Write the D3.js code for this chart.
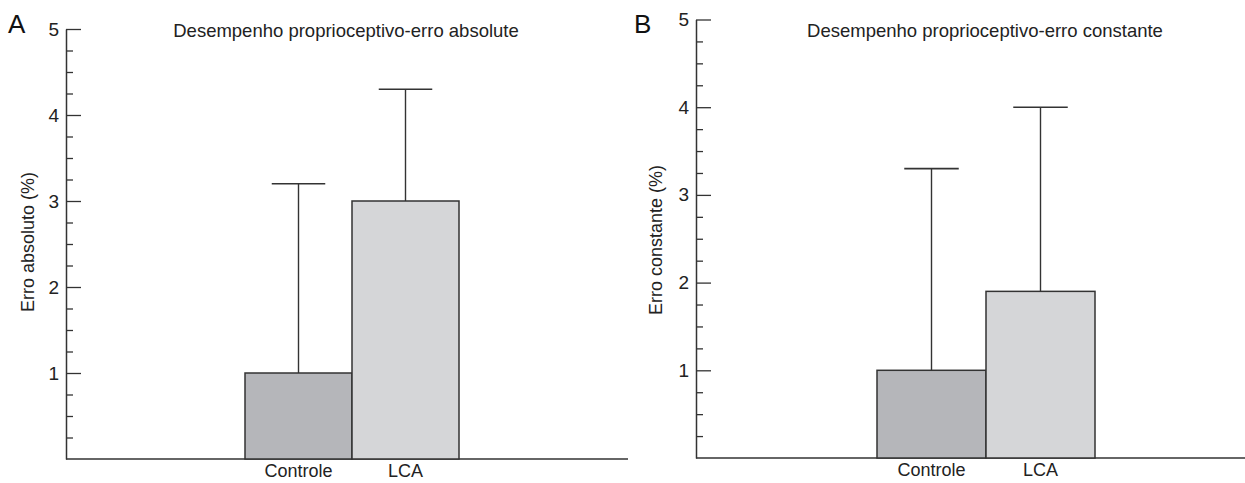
<!DOCTYPE html>
<html>
<head>
<meta charset="utf-8">
<script src="https://cdn.jsdelivr.net/npm/d3@7"></script>
<style>
  body { margin: 0; background: #fff; }
  svg { display: block; font-family: "Liberation Sans", Arial, sans-serif; }
</style>
</head>
<body>
<svg id="chart"></svg>
<script>
// data
const categories = ["Controle", "LCA"];
const absMeans = [1.0, 3.0];
const absUpper = [3.2, 4.3];
const constMeans = [1.0, 1.9];
const constUpper = [3.3, 4.0];
const majorTicks = [1, 2, 3, 4, 5];
const minorTicks = [0.25, 0.5, 0.75, 1.25, 1.5, 1.75, 2.25, 2.5, 2.75, 3.25, 3.5, 3.75, 4.25, 4.5, 4.75];

const barColors = ["#b5b6ba", "#d5d6d8"];
const ink = "#333";

const svg = d3.select("#chart")
    .attr("width", 1245)
    .attr("height", 483);

const panels = [
    { letter: "A", title: "Desempenho proprioceptivo-erro absolute", ylabel: "Erro absoluto (%)",
      means: absMeans, upper: absUpper,
      axisX: 66, axisEnd: 628, top: 29, bottom: 459, barsFrom: 245, barsTo: 459,
      titleX: 346, letterX: 8, ylabelX: 34, ylabelY: 242 },
    { letter: "B", title: "Desempenho proprioceptivo-erro constante", ylabel: "Erro constante (%)",
      means: constMeans, upper: constUpper,
      axisX: 696, axisEnd: 1245, top: 19.5, bottom: 458, barsFrom: 877, barsTo: 1095,
      titleX: 985, letterX: 634, ylabelX: 662, ylabelY: 240 }
];

panels.forEach(p => drawPanel(p));

function drawPanel(p){
    const y = d3.scaleLinear().domain([0, 5]).range([p.bottom, p.top]);
    const x = d3.scaleBand().domain(categories).range([p.barsFrom, p.barsTo]).padding(0);

    const g = svg.append("g");

    // minor ticks (inward)
    g.append("g")
        .attr("transform", `translate(${p.axisX},0)`)
        .call(d3.axisLeft(y).tickValues(minorTicks).tickSize(-7).tickFormat(""))
        .call(a => a.select(".domain").remove())
        .call(a => a.selectAll("line").attr("stroke", ink).attr("stroke-width", 1.3));

    // major ticks + labels
    g.append("g")
        .attr("transform", `translate(${p.axisX},0)`)
        .call(d3.axisLeft(y).tickValues(majorTicks).tickSizeInner(-15).tickSizeOuter(0).tickPadding(7).tickFormat(d3.format("d")))
        .call(a => a.select(".domain").attr("stroke", ink).attr("stroke-width", 1.5))
        .call(a => a.selectAll("line").attr("stroke", ink).attr("stroke-width", 1.3))
        .call(a => a.selectAll("text").attr("fill", "#222").style("font-size", "19px").style("font-family", "'Liberation Sans', Arial, sans-serif"));

    // bottom line
    g.append("line")
        .attr("x1", p.axisX).attr("x2", p.axisEnd)
        .attr("y1", y(0)).attr("y2", y(0))
        .attr("stroke", ink).attr("stroke-width", 1.6);

    // error bars
    const capW = x.bandwidth() / 2;
    const err = g.selectAll(".err")
        .data(categories)
        .enter()
        .append("g")
        .attr("class", "err");
    err.append("line")
        .attr("x1", d => x(d) + x.bandwidth() / 2)
        .attr("x2", d => x(d) + x.bandwidth() / 2)
        .attr("y1", (d, i) => y(p.means[i]))
        .attr("y2", (d, i) => y(p.upper[i]))
        .attr("stroke", ink).attr("stroke-width", 1.4);
    err.append("line")
        .attr("x1", d => x(d) + x.bandwidth() / 2 - capW / 2)
        .attr("x2", d => x(d) + x.bandwidth() / 2 + capW / 2)
        .attr("y1", (d, i) => y(p.upper[i]))
        .attr("y2", (d, i) => y(p.upper[i]))
        .attr("stroke", ink).attr("stroke-width", 1.6);

    // bars
    g.selectAll(".bar")
        .data(categories)
        .enter()
        .append("rect")
        .attr("class", "bar")
        .attr("x", d => x(d))
        .attr("y", (d, i) => y(p.means[i]))
        .attr("width", x.bandwidth())
        .attr("height", (d, i) => y(0) - y(p.means[i]))
        .attr("fill", (d, i) => barColors[i])
        .attr("stroke", ink)
        .attr("stroke-width", 1.5);

    // category labels
    g.selectAll(".cat")
        .data(categories)
        .enter()
        .append("text")
        .attr("x", d => x(d) + x.bandwidth() / 2)
        .attr("y", y(0) + 18)
        .attr("text-anchor", "middle")
        .attr("fill", "#222")
        .style("font-size", "18px")
        .text(d => d);

    // title
    g.append("text")
        .attr("x", p.titleX)
        .attr("y", 37)
        .attr("text-anchor", "middle")
        .attr("fill", "#222")
        .style("font-size", "18.5px")
        .text(p.title);

    // panel letter
    g.append("text")
        .attr("x", p.letterX)
        .attr("y", 33)
        .attr("fill", "#111")
        .style("font-size", "26px")
        .text(p.letter);

    // y axis label
    g.append("text")
        .attr("transform", `translate(${p.ylabelX},${p.ylabelY}) rotate(-90)`)
        .attr("text-anchor", "middle")
        .attr("fill", "#222")
        .style("font-size", "18px")
        .text(p.ylabel);
}
</script>
</body>
</html>
